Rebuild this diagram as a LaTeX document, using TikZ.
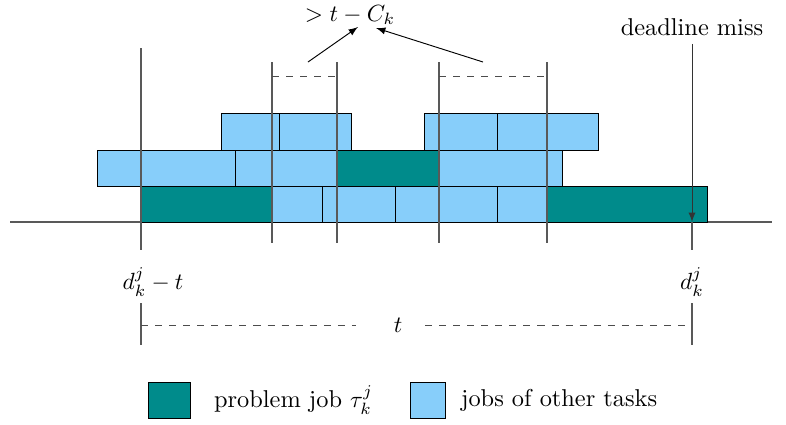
\documentclass[tikz,border=0pt]{standalone}
\usetikzlibrary{positioning}
\definecolor{probjob}{RGB}{0,139,139}
\definecolor{otherjob}{RGB}{135,206,250}

\begin{document}
\begin{tikzpicture}[x=0.015cm, y=-0.015cm,
  every node/.style={font=\fontsize{10.4pt}{12.5pt}\selectfont},
  probbox/.style={draw, fill=probjob},
  otherbox/.style={draw, fill=otherjob},
  marker/.style={draw=black!65, line width=0.45pt}]
\useasboundingbox (0,0) rectangle (786,424);

% time axis
\draw[marker] (10,222) -- (772,222);

% jobs of other tasks
\foreach \xa/\xb/\ya/\yb in {272/322/186/222, 322/395/186/222, 395/497/186/222, 497/547/186/222,
    97/235/150/186, 235/337/150/186, 439/562/150/186,
    221/279/113/150, 279/351/113/150, 424/497/113/150, 497/598/113/150}
  \draw[otherbox] (\xa,\ya) rectangle (\xb,\yb);
% problem job
\foreach \xa/\xb/\ya/\yb in {141/272/186/222, 337/439/150/186, 547/707/186/222}
  \draw[probbox] (\xa,\ya) rectangle (\xb,\yb);

% window markers
\draw[marker] (141,48) -- (141,250);
\foreach \x in {272,337,439,547}
  \draw[marker] (\x,62) -- (\x,243);
\draw[dashed, black!70] (272,76) -- (337,76);
\draw[dashed, black!70] (439,76) -- (547,76);

\node (limit) at (350,15) {$>t-C_k$};
\coordinate (fromA) at (308,62);
\coordinate (fromB) at (483,62);
\coordinate (tipA) at (358,27);
\coordinate (tipB) at (376,28);
\draw[-latex] (fromA) -- (tipA);
\draw[-latex] (fromB) -- (tipB);

% deadline miss
\node (dmiss) at (692,27) {deadline miss};
\coordinate (miss) at (692,222);
\draw[-latex, black!80] (dmiss) -- (miss);
\draw[marker] (miss) -- (692,250);

% interval of length t
\node (dstart) at (153,282) {$d_k^j-t$};
\node (dend) at (692,282) {$d_k^j$};
\draw[marker] (141,303) -- (141,345);
\draw[marker] (692,303) -- (692,345);
\node (tlen) at (398,325) {$t$};
\draw[dashed, black!70] (141,325) -- (356,325);
\draw[dashed, black!70] (425,325) -- (692,325);

% legend
\node[probbox, minimum width=0.63cm, minimum height=0.54cm] (keyprob) at (169,400) {};
\node[right=0.23cm of keyprob] (keyprobtxt) {problem job $\tau_k^j$};
\node[otherbox, minimum width=0.53cm, minimum height=0.54cm] (keyother) at (428,400) {};
\node[right=0.1cm of keyother] (keyothertxt) {jobs of other tasks};
\end{tikzpicture}
\end{document}
